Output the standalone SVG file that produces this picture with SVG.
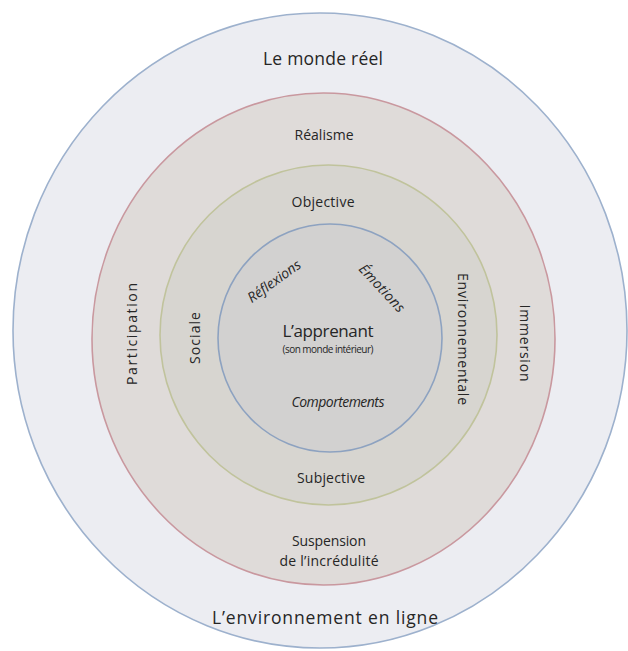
<svg xmlns="http://www.w3.org/2000/svg" width="628" height="651" viewBox="0 0 628 651">
<style>
text{font-family:"Open Sans","Noto Sans","Liberation Sans",sans-serif;fill:#262626;text-anchor:middle}
.big{font-size:17.5px}
.mid{font-size:14px}
.it{font-style:italic}
.ring{stroke-width:1.6}
</style>
<rect x="0" y="0" width="628" height="651" fill="#ffffff"/>
<g id="outer">
<ellipse class="ring" cx="320" cy="330.5" rx="307" ry="317.5" fill="#ecedf2" stroke="#9db1cd"/>
<text class="big" x="323" y="65" textLength="120">Le monde réel</text>
<text class="big" x="325" y="624" textLength="226">L’environnement en ligne</text>
</g>
<g id="red">
<ellipse class="ring" cx="323.5" cy="339" rx="231.5" ry="246" fill="#dfdbd9" stroke="#c9989f"/>
<text class="mid" x="324" y="140" textLength="59">Réalisme</text>
<text class="mid" x="329" y="546" textLength="74">Suspension</text>
<text class="mid" x="329" y="566" textLength="99">de l’incrédulité</text>
<text class="mid" transform="translate(137,334) rotate(-90)" textLength="102">Participation</text>
<text class="mid" transform="translate(520,343) rotate(90)" textLength="77">Immersion</text>
</g>
<g id="green">
<ellipse class="ring" cx="328.5" cy="335" rx="168.5" ry="170" fill="#d7d5d0" stroke="#c0c39c"/>
<text class="mid" x="323" y="207" textLength="63">Objective</text>
<text class="mid" x="331" y="483" textLength="68">Subjective</text>
<text class="mid" transform="translate(200,338) rotate(-90)" textLength="52">Sociale</text>
<text class="mid" transform="translate(458,339) rotate(90)" textLength="132">Environnementale</text>
</g>
<g id="inner">
<ellipse class="ring" cx="330" cy="338" rx="112" ry="114" fill="#d2d1d0" stroke="#8da2c0"/>
<text style="font-size:17px" x="328" y="337" textLength="91">L’apprenant</text>
<text style="font-size:10px" x="328" y="353" textLength="91">(son monde intérieur)</text>
<text class="mid it" x="338" y="407" textLength="93">Comportements</text>
<text class="mid it" transform="translate(274,281) rotate(-36) translate(0,5)" textLength="62">Réflexions</text>
<text class="mid it" transform="translate(382,288) rotate(47) translate(0,5)" textLength="60">Émotions</text>
</g>
<g id="connectors"></g>
</svg>
